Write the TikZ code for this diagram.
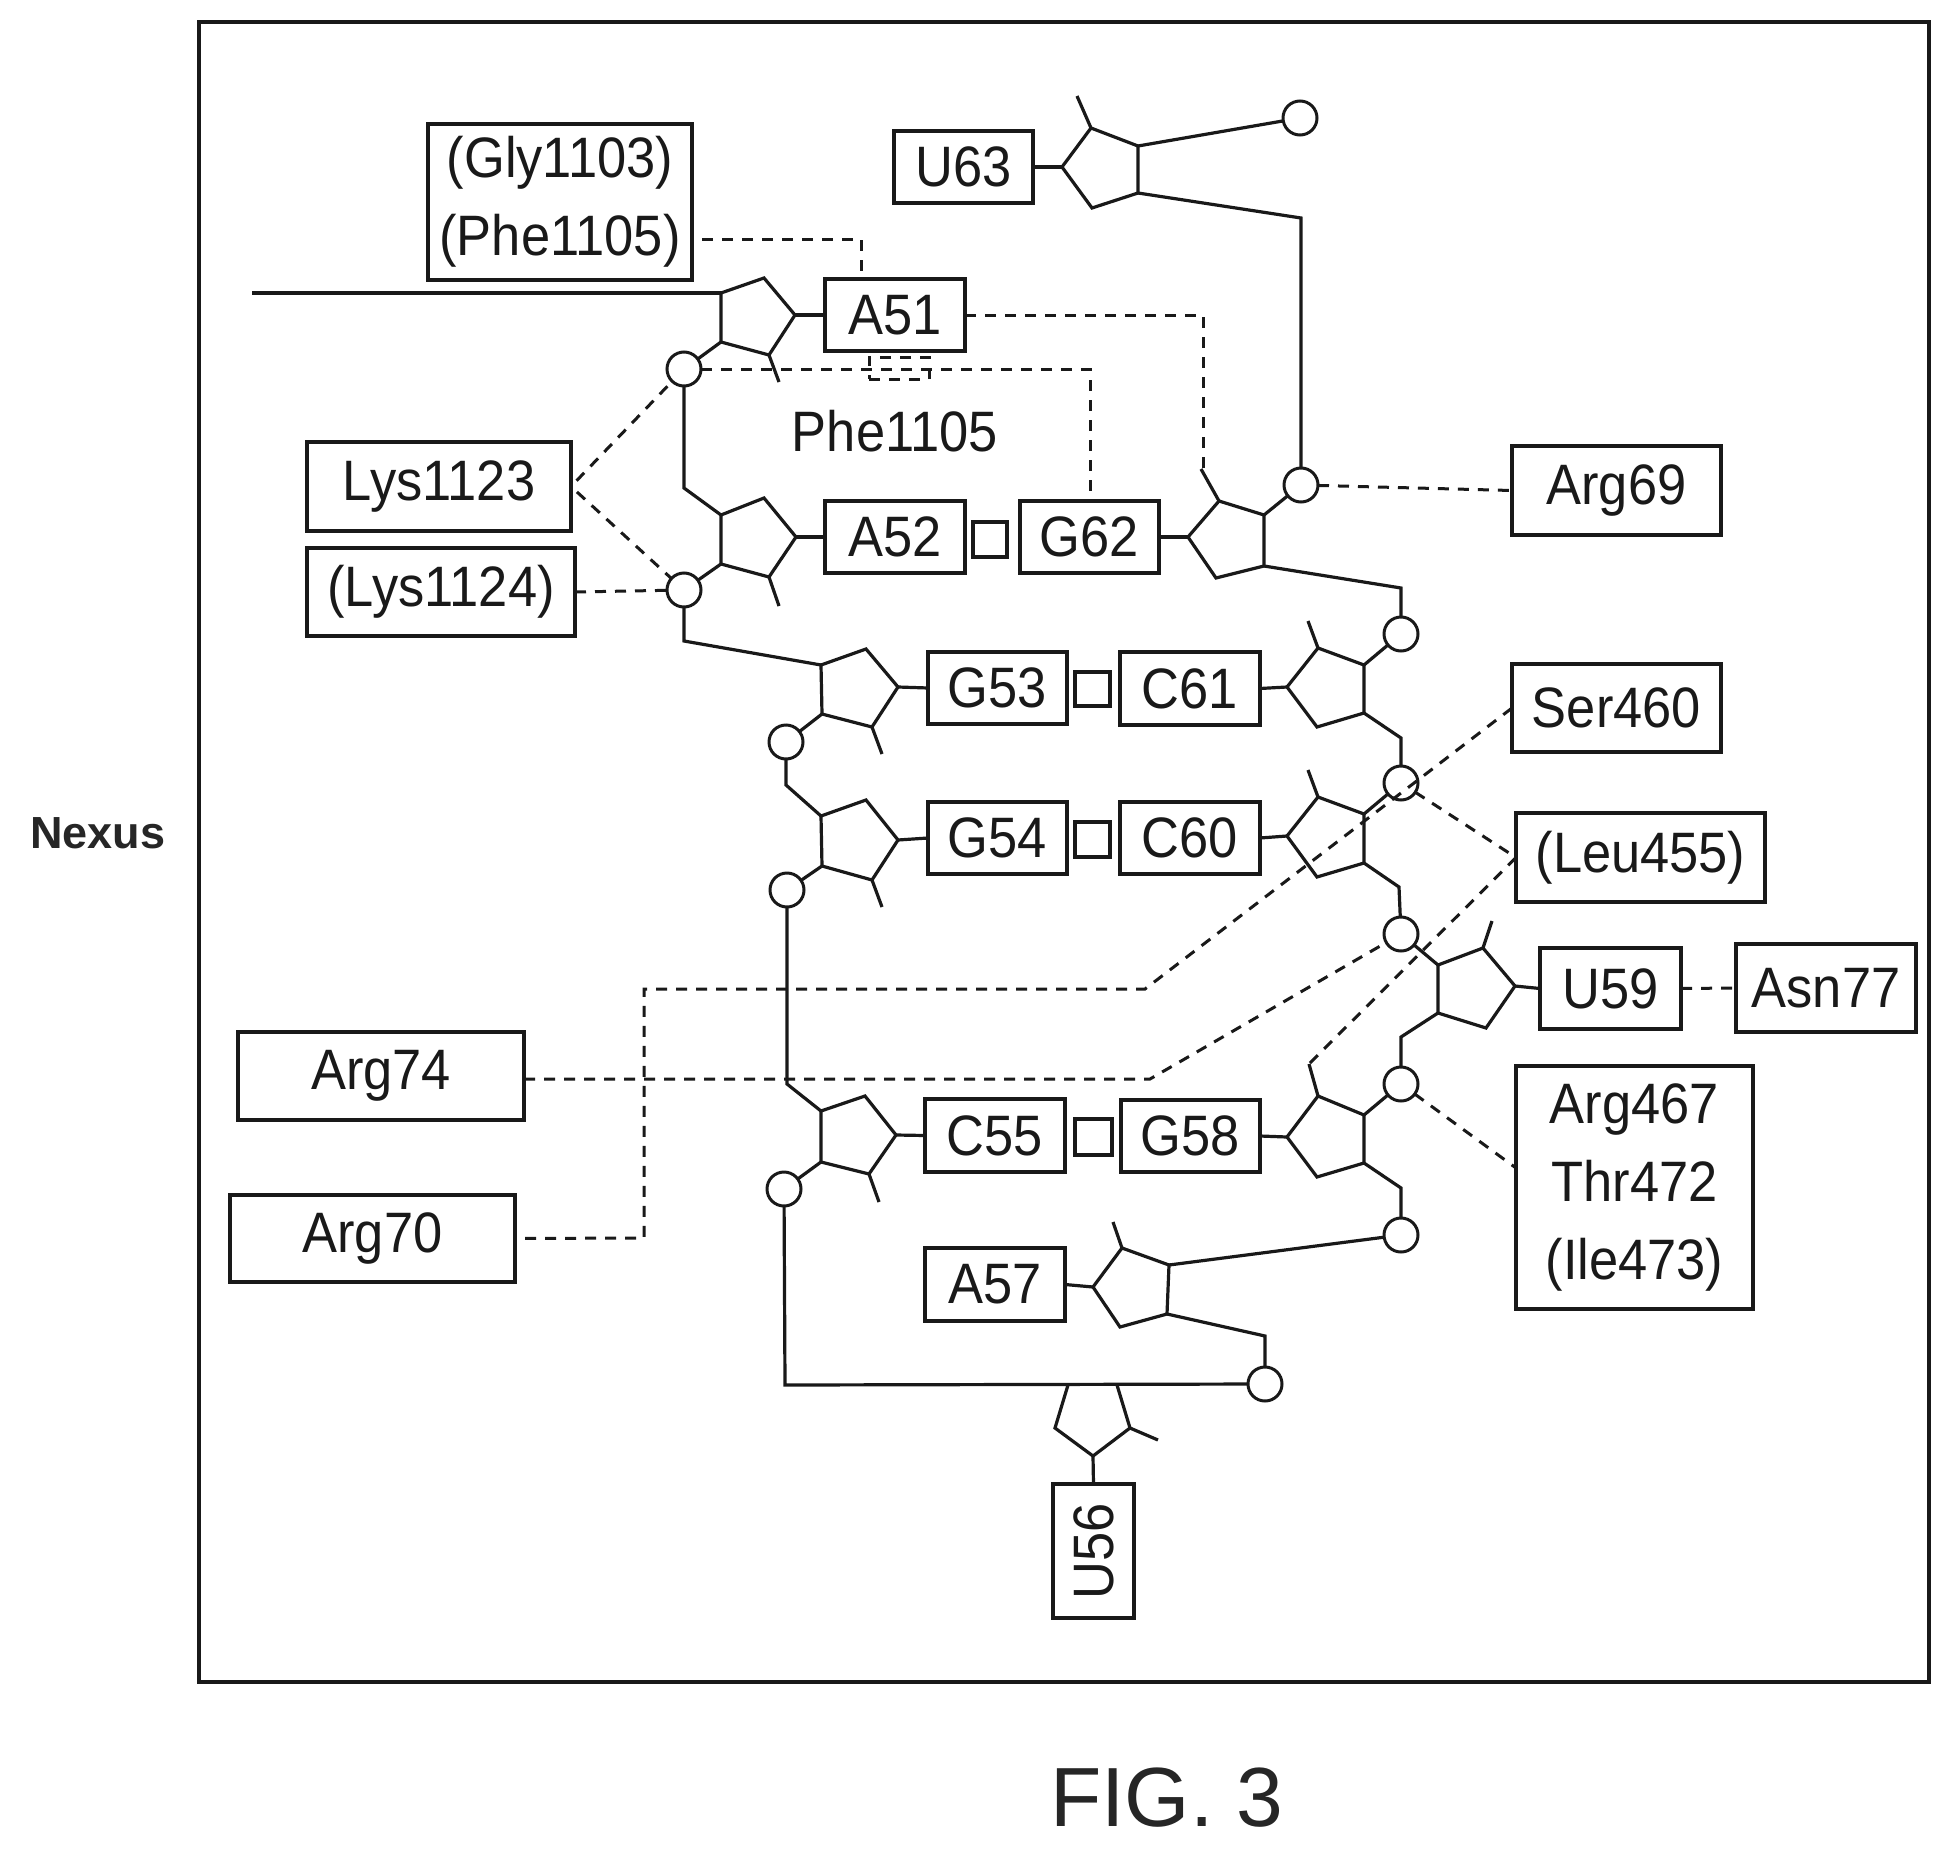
\documentclass[tikz,border=0pt]{standalone}
\usepackage{fontspec}
\setmainfont[FakeStretch=0.92]{Liberation Sans}
\newfontfamily\plainsans{Liberation Sans}
\tikzset{
  line/.style={line width=1.6pt,black!90,line join=miter},
  dashline/.style={line width=1.5pt,black!90,dash pattern=on 5.5pt off 4.5pt},
  ringnode/.style={circle,draw=black!90,line width=1.5pt,minimum size=17pt,inner sep=0pt,outer sep=0pt},
  boxnode/.style={rectangle,draw=black!90,line width=1.7pt,inner sep=0pt,outer sep=0pt,align=center,font=\fontsize{28.5}{38}\selectfont,text=black!90},
}
% box: name, x1, y1, x2, y2, text
\newcommand{\bx}[6]{\node[boxnode,minimum width={(#4-#2)*0.5pt},minimum height={(#5-#3)*0.5pt}] (#1) at ({(#2+#4)/2},{(#3+#5)/2}) {#6};}
% sugar ring: name, tip, a, b, c, d, stub end (a = next to b on the top side)
\newcommand{\sugar}[7]{%
  \coordinate (#1-tip) at (#2);
  \coordinate (#1-a) at (#3);
  \coordinate (#1-b) at (#4);
  \coordinate (#1-c) at (#5);
  \coordinate (#1-d) at (#6);
  \coordinate (#1-s) at (#7);
  \draw[line] (#1-tip) -- (#1-a) -- (#1-b) -- (#1-c) -- (#1-d) -- cycle;
}
\begin{document}
\begin{tikzpicture}[x=0.5pt,y=-0.5pt]
\useasboundingbox (0,0) rectangle (1950,1852);
\node[rectangle,draw=black!90,line width=1.8pt,minimum width=865pt,minimum height=830pt,inner sep=0pt] (frame) at (1064,852) {};
\node[font=\plainsans\bfseries\fontsize{22.5}{26}\selectfont,text=black!85] (nexus) at (98,833) {Nexus};
\node[font=\plainsans\fontsize{42}{48}\selectfont,text=black!85] (figlabel) at (1167,1798) {FIG. 3};
\node[font=\fontsize{28.5}{38}\selectfont,text=black!90] (phe) at (895,431) {Phe1105};

% boxes
\bx{gly}{428}{124}{692}{280}{(Gly1103)\\[1pt](Phe1105)}
\bx{U63}{894}{131}{1033}{203}{U63}
\bx{A51}{825}{279}{965}{351}{A51}
\node[rectangle,draw=black!90,dashline,minimum width=30pt,minimum height=11pt,inner sep=0pt] (phebox) at (899,368) {};
\bx{lysa}{307}{442}{571}{531}{Lys1123}
\bx{lysb}{307}{548}{575}{636}{(Lys1124)}
\bx{A52}{825}{501}{965}{573}{A52}
\bx{sqa}{973}{522}{1007}{557}{}
\bx{G62}{1020}{501}{1159}{573}{G62}
\bx{arga}{1512}{446}{1721}{535}{Arg69}
\bx{G53}{928}{652}{1067}{724}{G53}
\bx{sqb}{1075}{672}{1110}{706}{}
\bx{C61}{1120}{652}{1260}{725}{C61}
\bx{ser}{1512}{664}{1721}{752}{Ser460}
\bx{G54}{928}{802}{1067}{874}{G54}
\bx{sqc}{1075}{822}{1110}{857}{}
\bx{C60}{1120}{802}{1260}{874}{C60}
\bx{leu}{1516}{813}{1765}{902}{(Leu455)}
\bx{U59}{1540}{948}{1681}{1029}{U59}
\bx{asn}{1736}{944}{1916}{1032}{Asn77}
\bx{argd}{238}{1032}{524}{1120}{Arg74}
\bx{arge}{230}{1195}{515}{1282}{Arg70}
\bx{C55}{925}{1099}{1065}{1172}{C55}
\bx{sqd}{1075}{1119}{1112}{1155}{}
\bx{G58}{1121}{1100}{1260}{1172}{G58}
\bx{argc}{1516}{1066}{1753}{1309}{Arg467\\[1pt]Thr472\\[1pt](Ile473)}
\bx{A57}{925}{1248}{1065}{1321}{A57}
\bx{U56}{1053}{1484}{1134}{1618}{\rotatebox{90}{U56}}

% phosphate circles
\node[ringnode] (pa) at (684,369) {};
\node[ringnode] (pb) at (684,590) {};
\node[ringnode] (pc) at (786,742) {};
\node[ringnode] (pd) at (787,890) {};
\node[ringnode] (pe) at (784,1189) {};
\node[ringnode] (pf) at (1265,1384) {};
\node[ringnode] (pg) at (1401,1235) {};
\node[ringnode] (ph) at (1401,1084) {};
\node[ringnode] (pi) at (1401,934) {};
\node[ringnode] (pj) at (1401,783) {};
\node[ringnode] (pk) at (1401,634) {};
\node[ringnode] (pl) at (1301,485) {};
\node[ringnode] (pm) at (1300,118) {};

% sugar rings
\sugar{sA51}{795,315}{764,278}{721,293}{721,342}{769,355}{779,382}
\sugar{sA52}{796,537}{764,498}{721,515}{721,564}{769,577}{779,606}
\sugar{sG53}{898,687}{866,649}{821,665}{822,714}{872,727}{882,754}
\sugar{sG54}{898,840}{866,800}{821,816}{822,866}{872,880}{882,907}
\sugar{sC55}{896,1135}{865,1096}{821,1111}{821,1162}{869,1174}{879,1202}
\sugar{sU63}{1062,167}{1091,128}{1138,146}{1138,193}{1092,208}{1077,96}
\sugar{sG62}{1188,537}{1219,501}{1264,515}{1264,566}{1216,578}{1201,469}
\sugar{sC61}{1287,687}{1318,648}{1364,665}{1364,713}{1317,727}{1308,621}
\sugar{sC60}{1287,836}{1318,797}{1364,814}{1364,863}{1317,877}{1308,770}
\sugar{sG58}{1287,1137}{1318,1096}{1364,1115}{1364,1163}{1317,1177}{1309,1064}
\sugar{sU59}{1515,986}{1483,948}{1438,965}{1438,1013}{1486,1028}{1492,921}
\sugar{sA57}{1093,1287}{1122,1248}{1169,1265}{1167,1314}{1120,1327}{1113,1222}
% U56 ring opens into the long backbone line
\coordinate (sU56-a) at (1068,1385);
\coordinate (sU56-b) at (1055,1428);
\coordinate (sU56-tip) at (1093,1456);
\coordinate (sU56-c) at (1130,1428);
\coordinate (sU56-d) at (1117,1385);
\coordinate (sU56-s) at (1158,1440);
\draw[line] (sU56-a) -- (sU56-b) -- (sU56-tip) -- (sU56-c) -- (sU56-d);

% base links and methyl-like stubs
\foreach \r/\b in {sA51/A51.west,sA52/A52.west,sG53/G53.west,sG54/G54.west,sC55/C55.west,sU63/U63.east,sG62/G62.east,sC61/C61.east,sC60/C60.east,sG58/G58.east,sU59/U59.west,sA57/A57.east,sU56/U56.north}
  \draw[line] (\r-tip) -- (\b);
\foreach \r/\v in {sA51/d,sA52/d,sG53/d,sG54/d,sC55/d,sU63/a,sG62/a,sC61/a,sC60/a,sG58/a,sU59/a,sA57/a,sU56/c}
  \draw[line] (\r-\v) -- (\r-s);

% backbone
\coordinate (la) at (252,293);
\draw[line] (la) -- (sA51-b);
\draw[line] (sA51-c) -- (pa);
\draw[line] (pa) -- (684,488) -- (sA52-b);
\draw[line] (sA52-c) -- (pb);
\draw[line] (pb) -- (684,641) -- (sG53-b);
\draw[line] (sG53-c) -- (pc);
\draw[line] (pc) -- (786,785) -- (sG54-b);
\draw[line] (sG54-c) -- (pd);
\draw[line] (pd) -- (787,1084) -- (sC55-b);
\draw[line] (sC55-c) -- (pe);
\draw[line] (pe) -- (785,1385) -- (pf);
\draw[line] (pf) -- (1265,1336) -- (sA57-c);
\draw[line] (sA57-b) -- (pg);
\draw[line] (pg) -- (1401,1188) -- (sG58-c);
\draw[line] (sG58-b) -- (ph);
\draw[line] (ph) -- (1401,1037) -- (sU59-c);
\draw[line] (sU59-b) -- (pi);
\draw[line] (pi) -- (1399,887) -- (sC60-c);
\draw[line] (sC60-b) -- (pj);
\draw[line] (pj) -- (1401,738) -- (sC61-c);
\draw[line] (sC61-b) -- (pk);
\draw[line] (pk) -- (1401,588) -- (sG62-c);
\draw[line] (sG62-b) -- (pl);
\draw[line] (pl) -- (1301,218) -- (sU63-c);
\draw[line] (sU63-b) -- (pm);

% contacts
\coordinate (arginc) at (1516,1168);
\coordinate (jser) at (1145,989);
\coordinate (jarg) at (1150,1079);
\coordinate (jglya) at (702,239);
\draw[dashline] (jglya) -- (861,239) -- (A51.north -| 861,279);
\draw[dashline] (A51.east) -- (1203,315) -- (1203,469);
\draw[dashline] (pa) -- (1090,369) -- (G62.north -| 1090,501);
\draw[dashline,shorten <=4pt] (lysa.east) -- (pa);
\draw[dashline,shorten <=4pt] (lysa.east) -- (pb);
\draw[dashline] (lysb.east) -- (pb);
\draw[dashline] (pl) -- (arga.west);
\draw[dashline] (ser.west) -- (jser) -- (644,989) -- (644,1238) -- (arge.east);
\draw[dashline] (pj) -- (leu.west);
\draw[dashline] (leu.west) -- (sG58-s);
\draw[dashline] (argd.east |- jarg) -- (jarg) -- (pi);
\draw[dashline] (U59.east) -- (asn.west);
\draw[dashline] (ph) -- (arginc);
\end{tikzpicture}
\end{document}
